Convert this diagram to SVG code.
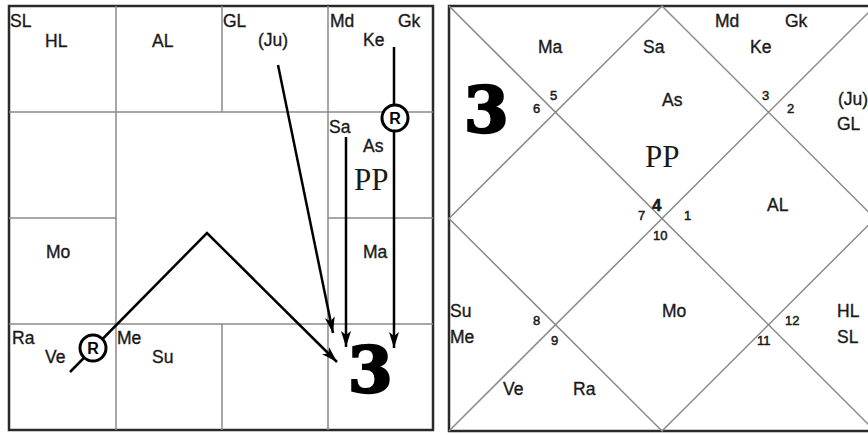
<svg xmlns="http://www.w3.org/2000/svg" width="868" height="435" viewBox="0 0 868 435">
<defs>
<style>
.t{font-family:"Liberation Sans",Arial,sans-serif;font-size:17.5px;fill:#1a1a1a;stroke:#1a1a1a;stroke-width:0.35}
.n{font-family:"Liberation Sans",Arial,sans-serif;font-size:13px;fill:#1a1a1a;stroke:#1a1a1a;stroke-width:0.5}
.pp{font-family:"Liberation Serif","Times New Roman",serif;font-size:31px;fill:#1a1a1a}
.big{font-family:"DejaVu Serif",serif;font-weight:bold;font-size:64px;fill:#000;stroke:#000;stroke-width:2.5}
.outer{fill:none;stroke:#2a2a2a;stroke-width:2.5}
.grid{fill:none;stroke:#8a8a8a;stroke-width:1.5}
.arr{fill:none;stroke:#000;stroke-width:2.5}
.rc{fill:#fff;stroke:#000;stroke-width:3}
.rt{font-family:"Liberation Sans",Arial,sans-serif;font-weight:bold;font-size:16px;fill:#000}
</style>
<marker id="ah" markerUnits="userSpaceOnUse" markerWidth="18" markerHeight="12" refX="16" refY="5" orient="auto" viewBox="0 0 18 10">
<path d="M0,0 L16,5 L0,10 L4,5 z" fill="#000"/>
</marker>
</defs>

<!-- Left chart frame -->
<g id="left-chart">
<rect class="outer" x="9" y="6" width="424" height="424"/>
<path class="grid" d="M9,112 H433 M9,324 H433 M9,218 H116 M328,218 H433 M116,6 V430 M328,6 V430 M222,6 V112 M222,324 V430"/>
</g>

<g id="L-h1"><text class="t" x="10" y="27">SL</text><text class="t" x="45" y="47">HL</text></g>
<g id="L-h2"><text class="t" x="152" y="47">AL</text></g>
<g id="L-h3"><text class="t" x="223" y="27">GL</text><text class="t" x="258" y="46">(Ju)</text></g>
<g id="L-h4"><text class="t" x="330" y="27">Md</text><text class="t" x="398" y="27">Gk</text><text class="t" x="363" y="46">Ke</text></g>
<g id="L-h5"><text class="t" x="329" y="133">Sa</text><text class="t" x="363" y="152">As</text><text class="pp" x="354" y="190">PP</text></g>
<g id="L-h6"><text class="t" x="363" y="258">Ma</text></g>
<g id="L-h7"><text class="t" x="46" y="258">Mo</text></g>
<g id="L-h8"><text class="t" x="12" y="344">Ra</text><text class="t" x="45" y="363">Ve</text></g>
<g id="L-h9"><text class="t" x="117" y="344">Me</text><text class="t" x="152" y="363">Su</text></g>
<g id="L-h10"><text class="big" x="348" y="392">3</text></g>

<g id="connectors">
<line class="arr" x1="278" y1="65" x2="333" y2="333" marker-end="url(#ah)"/>
<line class="arr" x1="346" y1="137" x2="346" y2="347" marker-end="url(#ah)"/>
<line class="arr" x1="394" y1="47" x2="394" y2="348" marker-end="url(#ah)"/>
<polyline class="arr" points="70,372 207,233 337,362" marker-end="url(#ah)"/>
</g>

<g id="retro-ke"><circle class="rc" cx="395" cy="118" r="13"/><text class="rt" x="395" y="124" text-anchor="middle">R</text></g>
<g id="retro-ve"><circle class="rc" cx="93" cy="348" r="13"/><text class="rt" x="93" y="354" text-anchor="middle">R</text></g>

<!-- Right chart frame -->
<g id="right-chart">
<rect class="outer" x="449" y="6" width="426" height="425"/>
<path class="grid" d="M449,6 L875,431 M875,6 L449,431 M662,6 L875,218.5 L662,431 L449,218.5 Z"/>
</g>

<g id="R-h1"><text class="t" x="662" y="106">As</text><text class="pp" x="645" y="167">PP</text><text class="n" x="652" y="211" style="font-size:17px;font-weight:bold">4</text><text class="n" x="653" y="240">10</text><text class="n" x="638" y="220">7</text><text class="n" x="684" y="220">1</text></g>
<g id="R-h2"><text class="t" x="750" y="53">Ke</text><text class="t" x="715" y="27">Md</text><text class="t" x="785" y="27">Gk</text><text class="n" x="762" y="100">3</text><text class="n" x="787" y="113">2</text></g>
<g id="R-h3"><text class="t" x="838" y="105">(Ju)</text><text class="t" x="837" y="130">GL</text></g>
<g id="R-h4"><text class="t" x="767" y="211">AL</text></g>
<g id="R-h5"><text class="t" x="837" y="317">HL</text><text class="t" x="837" y="343">SL</text><text class="n" x="785" y="325">12</text><text class="n" x="757" y="345">11</text></g>
<g id="R-h6"><text class="t" x="662" y="317">Mo</text></g>
<g id="R-h7"><text class="t" x="503" y="395">Ve</text><text class="t" x="573" y="395">Ra</text><text class="n" x="551" y="345">9</text><text class="n" x="533" y="325">8</text></g>
<g id="R-h8"><text class="t" x="450" y="317">Su</text><text class="t" x="450" y="343">Me</text></g>
<g id="R-h9"><text class="t" x="538" y="53">Ma</text><text class="n" x="550" y="100">5</text><text class="n" x="533" y="113">6</text></g>
<g id="R-h10"><text class="t" x="643" y="53">Sa</text></g>
<g id="R-sign"><text class="big" x="464" y="132">3</text></g>
</svg>
